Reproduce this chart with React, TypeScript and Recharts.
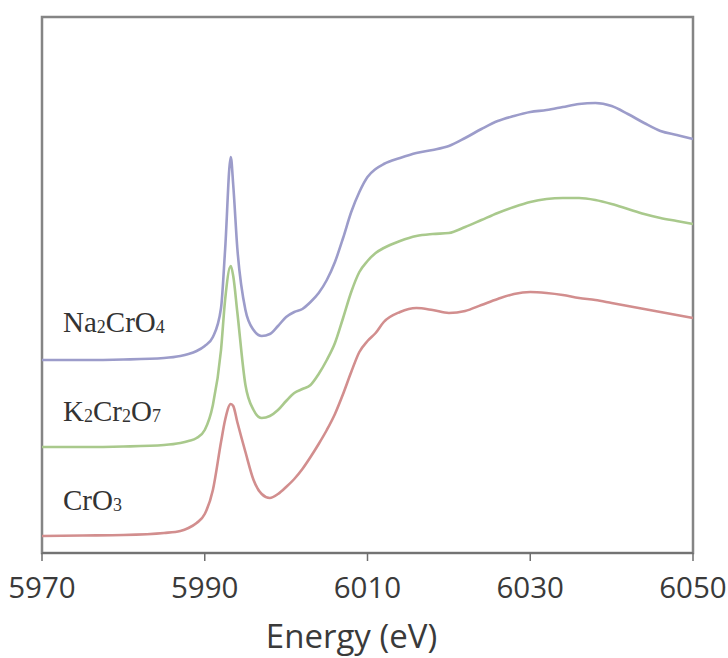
import React from 'react';
import { LineChart, Line, XAxis, YAxis, ReferenceArea } from 'recharts';

// Photon energy grid (eV)
const energy = [
  5970, 5975, 5980, 5985, 5987, 5988, 5989, 5990, 5991, 5992, 5992.5, 5993.2, 5993.5, 5994,
  5995, 5996, 5997, 5998, 5999, 6000, 6001, 6002, 6003, 6004, 6005, 6006, 6007, 6008, 6009,
  6010, 6011, 6012, 6014, 6016, 6018, 6020, 6022, 6024, 6026, 6028, 6030, 6032, 6034, 6036,
  6038, 6040, 6042, 6044, 6046, 6048, 6050,
];

// Normalized absorbance, stacked with vertical offsets
const na2cro4 = [
  1.88, 1.88, 1.885, 1.9, 1.92, 1.94, 1.97, 2.02, 2.11, 2.4, 2.98, 3.91, 3.63, 3.0,
  2.38, 2.18, 2.12, 2.14, 2.22, 2.31, 2.36, 2.39, 2.46, 2.55, 2.68, 2.86, 3.1, 3.36, 3.56,
  3.71, 3.79, 3.84, 3.9, 3.95, 3.98, 4.02, 4.1, 4.19, 4.27, 4.32, 4.36, 4.38, 4.41, 4.44,
  4.45, 4.42, 4.34, 4.25, 4.17, 4.13, 4.09,
];

const k2cr2o7 = [
  1.01, 1.01, 1.015, 1.03, 1.05, 1.07, 1.1, 1.18, 1.43, 1.98, 2.48, 2.82, 2.72, 2.36,
  1.63, 1.38, 1.3, 1.32, 1.38, 1.47, 1.55, 1.59, 1.63, 1.74, 1.88, 2.05, 2.3, 2.56, 2.76,
  2.87, 2.95, 3.0, 3.07, 3.12, 3.14, 3.15, 3.21, 3.28, 3.35, 3.41, 3.46, 3.49, 3.5, 3.5,
  3.48, 3.44, 3.39, 3.34, 3.3, 3.27, 3.24,
];

const cro3 = [
  0.12, 0.125, 0.13, 0.15, 0.17, 0.2, 0.25, 0.34, 0.58, 1.06, 1.28, 1.44, 1.42, 1.26,
  0.96, 0.68, 0.54, 0.5, 0.54, 0.61, 0.69, 0.79, 0.91, 1.04, 1.18, 1.34, 1.54, 1.76, 1.96,
  2.07, 2.15, 2.26, 2.36, 2.4, 2.38, 2.35, 2.37, 2.43, 2.49, 2.54, 2.56, 2.55, 2.53, 2.5,
  2.48, 2.45, 2.42, 2.39, 2.36, 2.33, 2.3,
];

const xTicks = [5970, 5990, 6010, 6030, 6050];
const yMin = -0.05;
const yMax = 5.31;

const data = energy.map((e, i) => ({
  e,
  na: na2cro4[i],
  k: k2cr2o7[i],
  cr: cro3[i],
}));

const sub = { fontSize: '0.62em', verticalAlign: '-0.05em' } as const;

const labelStyle: React.CSSProperties = {
  position: 'absolute',
  left: 63,
  fontFamily: '"Liberation Serif", "Times New Roman", serif',
  fontSize: 29,
  lineHeight: 1,
  color: '#333',
  whiteSpace: 'nowrap',
};

export default function App() {
  return (
    <div style={{ position: 'absolute', left: 0, top: 0, width: 728, height: 658, background: '#fff' }}>
      <LineChart
        width={728}
        height={658}
        data={data}
        margin={{ top: 17, right: 35, bottom: 0, left: 42 }}
      >
        <ReferenceArea
          x1={5970}
          x2={6050}
          y1={yMin}
          y2={yMax}
          fill="none"
          stroke="#858585"
          strokeWidth={2.5}
          ifOverflow="visible"
        />
        <XAxis
          dataKey="e"
          type="number"
          domain={[5970, 6050]}
          ticks={xTicks}
          height={105}
          tickSize={8}
          tickMargin={16}
          axisLine={{ stroke: '#6e6e6e', strokeWidth: 1.5 }}
          tickLine={{ stroke: '#6e6e6e', strokeWidth: 1.5 }}
          tick={{ fill: '#3a3a3a', fontSize: 29.5, fontFamily: '"Open Sans", sans-serif' }}
          label={{
            value: 'Energy (eV)',
            position: 'insideBottom',
            offset: 10,
            dx: -16,
            fill: '#3a3a3a',
            fontSize: 33,
            fontFamily: '"Open Sans", sans-serif',
          }}
        />
        <YAxis hide type="number" domain={[yMin, yMax]} />
        <Line type="monotone" dataKey="na" stroke="#9c9cca" strokeWidth={2.6} dot={false} isAnimationActive={false} />
        <Line type="monotone" dataKey="k" stroke="#a9c98c" strokeWidth={2.6} dot={false} isAnimationActive={false} />
        <Line type="monotone" dataKey="cr" stroke="#d28e8e" strokeWidth={2.6} dot={false} isAnimationActive={false} />
      </LineChart>
      <div style={{ ...labelStyle, top: 308 }}>
        Na<span style={sub}>2</span>CrO<span style={sub}>4</span>
      </div>
      <div style={{ ...labelStyle, top: 397 }}>
        K<span style={sub}>2</span>Cr<span style={sub}>2</span>O<span style={sub}>7</span>
      </div>
      <div style={{ ...labelStyle, top: 486 }}>
        CrO<span style={sub}>3</span>
      </div>
    </div>
  );
}
